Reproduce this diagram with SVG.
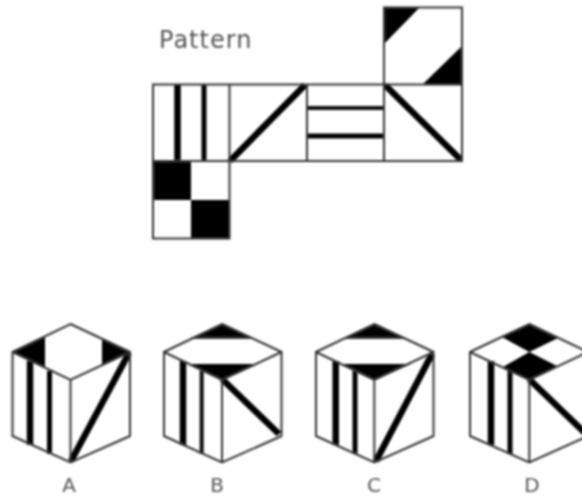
<svg xmlns="http://www.w3.org/2000/svg" width="582" height="497" viewBox="0 0 582 497">
<style>
.o{fill:none;stroke:#333;stroke-width:2;stroke-linejoin:miter}
.k{fill:#000;stroke:none}
.t5{fill:none;stroke:#000;stroke-width:6.500}
.t4{fill:none;stroke:#000;stroke-width:5}
.t3{fill:none;stroke:#111;stroke-width:4}
text{font-family:"DejaVu Sans",sans-serif;fill:#555}
.l{font-size:20px;text-anchor:middle}
</style>
<defs><filter id="soft" x="-5%" y="-5%" width="110%" height="110%"><feGaussianBlur stdDeviation="0.8"/></filter></defs>
<rect width="582" height="497" fill="#fff"/>
<g filter="url(#soft)">
<g id="pattern">
<text x="159" y="48" font-size="24" letter-spacing="1">Pattern</text>
<path class="k" d="M385 8H419L385 43ZM461 47V84H423Z"/>
<rect class="k" x="153" y="161" width="38" height="39"/>
<rect class="k" x="191" y="200" width="38" height="38"/>
<path class="t5" d="M177.500 85V161M230 161L305 85M385 85L461 160"/>
<path class="t4" d="M204 85V161M307 136H384"/>
<path class="t3" d="M307 108H384"/>
<path class="o" d="M153 84.500H462V161H153ZM384 84.500V7.500H462V84.500M229.500 84.500V238.500H153V161M307 84.500V161M384 84.500V161M462 84.500V161"/>
</g>
<g id="cube-a">
<path class="k" d="M12 352L45 336V367ZM102 338L130 352L102 366Z"/>
<path class="t5" d="M30 361V445M71 461L129 353"/>
<path class="t4" d="M49.500 371V454"/>
<path class="o" d="M70.500 324L130 352V436L70.500 462.500L12.500 436V352ZM12.500 352L70.500 380L130 352M70.500 380V462.500"/>
</g>
<g id="cube-b">
<path class="k" d="M191 338L221.700 324L252 338ZM190 364H258L221.700 380Z"/>
<path class="t5" d="M222 379L279 434"/>
<path class="t5" d="M183 361V445"/>
<path class="t3" d="M201.700 371V454"/>
<path class="o" d="M222 324L281.500 352V436L222 462.500L164 436V352ZM164 352L222 380L281.500 352M222 380V462.500M191 338H252"/>
</g>
<g id="cube-c">
<path class="k" d="M344 338L374.300 324L405 338ZM343 364H411L374.300 380Z"/>
<path class="t5" d="M335.700 361V445M376 461L432 354"/>
<path class="t4" d="M355 371V454"/>
<path class="o" d="M374.300 324L433.500 352V436L374.300 462.500L316 436V352ZM316 352L374.300 380L433.500 352M374.300 380V462.500M344 338H405"/>
</g>
<g id="cube-d">
<path class="k" d="M529.300 324L558 338L529.300 352L502 337ZM529.300 352L557 366L529.300 380L503 367Z"/>
<path class="t5" d="M491 361V445M529 379L586 434"/>
<path class="t4" d="M510 371V454"/>
<path class="o" d="M529.300 324L588 352V436L529.300 462.500L470 436V352ZM470 352L529.300 380L588 352M529.300 380V462.500"/>
</g>
<g id="labels">
<text class="l" x="69" y="492">A</text>
<text class="l" x="217" y="492">B</text>
<text class="l" x="374" y="492">C</text>
<text class="l" x="532" y="492">D</text>
</g>
</g>
</svg>
